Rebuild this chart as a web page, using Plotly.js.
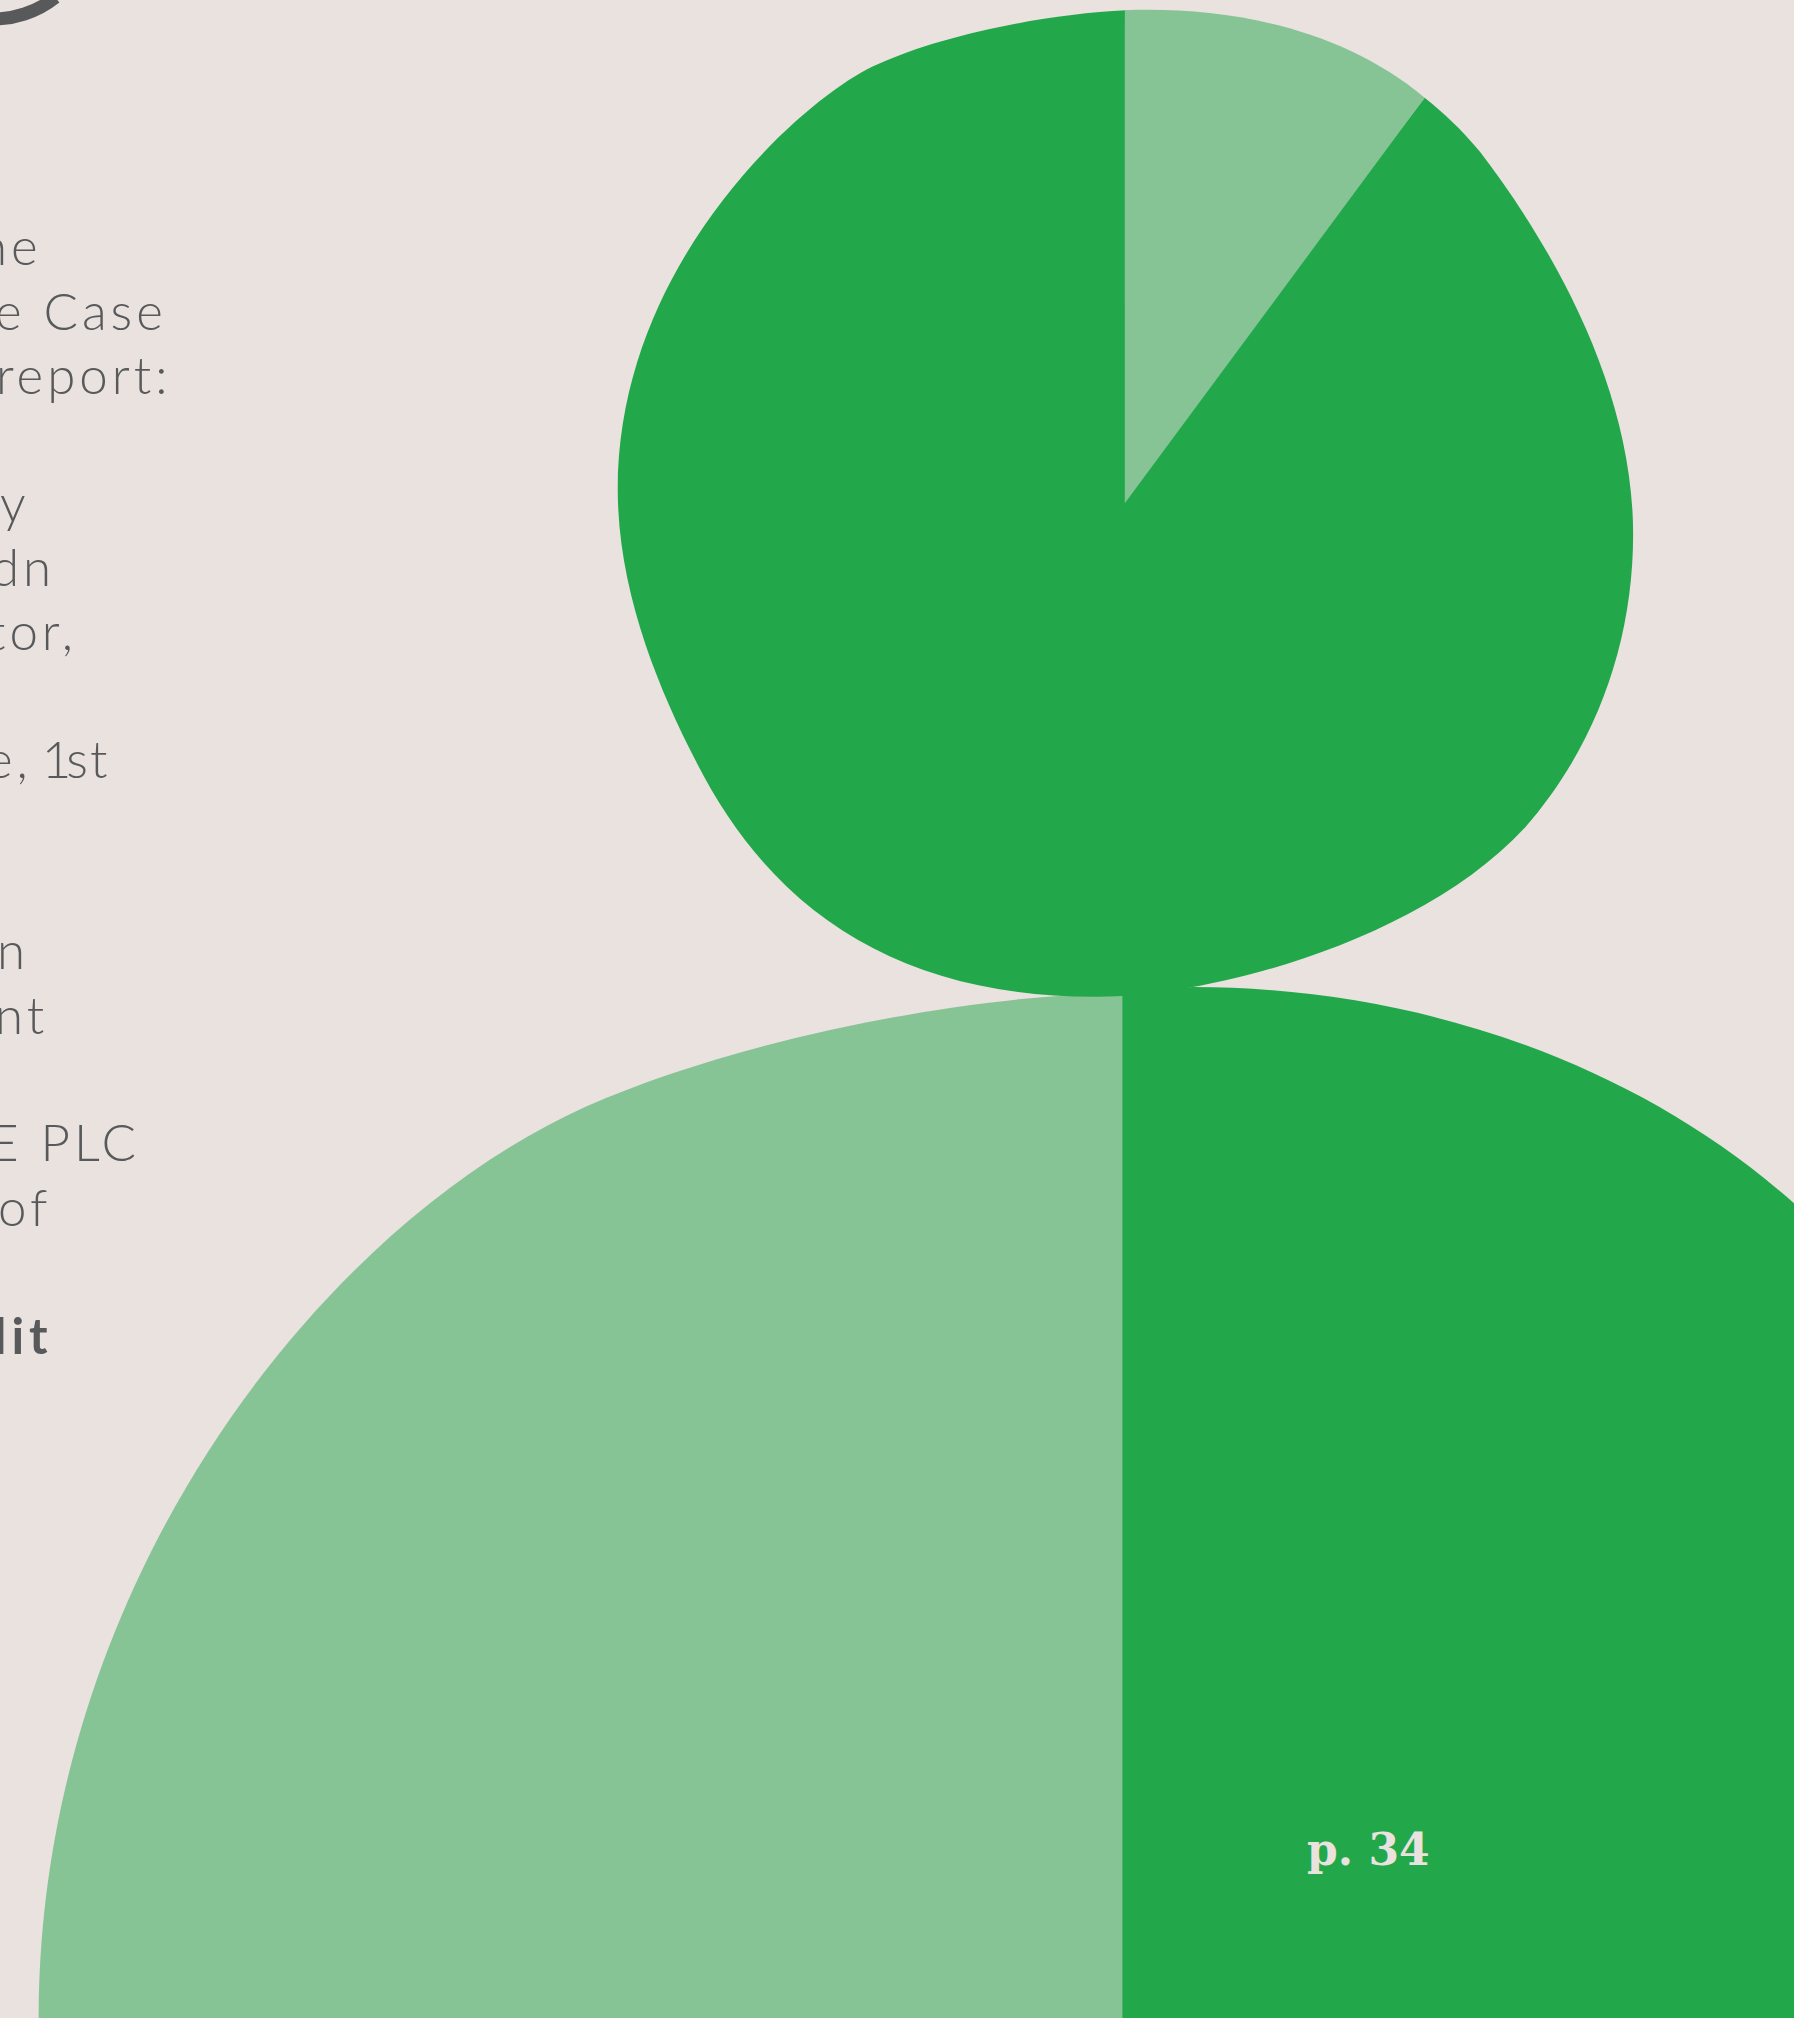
<!DOCTYPE html>
<html>
<head>
<meta charset="utf-8">
<script src="https://cdn.plot.ly/plotly-3.0.1.min.js"></script>
<style>html,body{margin:0;padding:0;background:#e9e2df;overflow:hidden}</style>
</head>
<body>
<div id="chart" style="width:1794px;height:2018px"></div>
<script>
// Person figure built from two part-to-whole shapes: head and body.
// Each outline is a start node followed by [control, control, node] triples.
const headDarkNodes = [[875,8],
  [810,11],[730,28],[682,50],
  [630,72],[480,200],[480,380],
  [480,460],[512,535],[540,590],
  [600,710],[700,774],[850,774.5],
  [930,776],[1100,735],[1185,643],
  [1240,580],[1269,500],[1269,415],
  [1269,300],[1205,190],[1150,118],
  [1135,100],[1122,88],[1107,76]];
const headDarkTip = [878,378];
const headPaleNodes = [[874,8],
  [950,5],[1040,20],[1107,76]];
const headPaleTip = [874,391];
const bodyPaleNodes = [[30,1568],
  [30,1235],[245,955],[455,860],
  [580,805],[760,772],[872,772]];
const bodyPaleCorner = [872,1568];
const bodyDarkNodes = [[927,767],
  [1100,767],[1270,825],[1394,935]];
const bodyDarkCorners = [[1394,1568],[872,1568],[872,771]];
const letterArcNodes = [[-5,14.8],
  [10,14.8],[28,10],[43,-2]];

const noteLines = ["ne","e Case","report:","y","dn","tor,","e, 1st","n","nt","E PLC","of"];
const noteRight = [34,131,135,25,44,61,86,24,39,110,41];
const noteBase = [207,257,307,406,456,506,605,754,804,903,953];
const boldLine = "dit";
const pageLabel = "p. 34";

const green = "#22a84b", pale = "#86c496", ink = "#58595b", paper = "#e9e2df";

// Turns a node list into an SVG path through the plot's data axes.
function curve(nodes) {
  let d = "M" + nodes[0].join(",");
  for (let i = 1; i < nodes.length; i += 3) {
    d += " C" + nodes[i].join(",") + " " + nodes[i + 1].join(",") + " " + nodes[i + 2].join(",");
  }
  return d;
}
function straight(points) {
  return points.map(p => " L" + p.join(",")).join("");
}
function area(path, color) {
  return {type: "path", xref: "x", yref: "y", layer: "below", path: path + " Z",
    fillcolor: color, line: {width: 0}};
}

const shapes = [
  area(curve(bodyPaleNodes) + straight([bodyPaleCorner]), pale),
  area(curve(bodyDarkNodes) + straight(bodyDarkCorners), green),
  area(curve(headDarkNodes) + straight([headDarkTip]), green),
  area(curve(headPaleNodes) + straight([headPaleTip]), pale),
  {type: "path", xref: "x", yref: "y", layer: "below", path: curve(letterArcNodes),
   line: {color: ink, width: 13}}
];

function spaced(t, px) {
  return '<span style="letter-spacing:' + px + 'px">' + t + '</span>';
}
// The digit 1 in this face is wide, so it and its neighbours are set tighter.
function setLine(t) {
  if (t.indexOf("1st") < 0) return spaced(t, 4);
  const lead = t.split("1st")[0].trim();
  return spaced(lead, 4) + spaced(" ", -4) + spaced("1", -5) + spaced("st", 2);
}
const notes = noteLines.map((t, i) => ({
  text: setLine(t), x: noteRight[i], y: noteBase[i], xref: "x", yref: "y",
  xanchor: "right", yanchor: "bottom", yshift: -12, showarrow: false,
  font: {family: "Lato", size: 51, color: ink, weight: 300}
}));
notes.push({text: spaced(boldLine, 5), x: 43, y: 1053, xref: "x", yref: "y", xanchor: "right", yanchor: "bottom",
  yshift: -12, showarrow: false, font: {family: "Lato", size: 50, color: ink, weight: 700}});
notes.push({text: pageLabel, x: 1063, y: 1437, xref: "x", yref: "y", xanchor: "center", yanchor: "middle",
  showarrow: false, font: {family: "DejaVu Serif", size: 44, color: paper, weight: 700}});

Plotly.newPlot("chart", [], {
  width: 1794, height: 2018, autosize: false,
  margin: {l: 0, r: 0, t: 0, b: 0, pad: 0},
  paper_bgcolor: paper, plot_bgcolor: paper, showlegend: false,
  xaxis: {range: [0, 1394], visible: false, fixedrange: true},
  yaxis: {range: [1568, 0], visible: false, fixedrange: true},
  shapes: shapes,
  annotations: notes
}, {staticPlot: true, displayModeBar: false});
</script>
</body>
</html>
